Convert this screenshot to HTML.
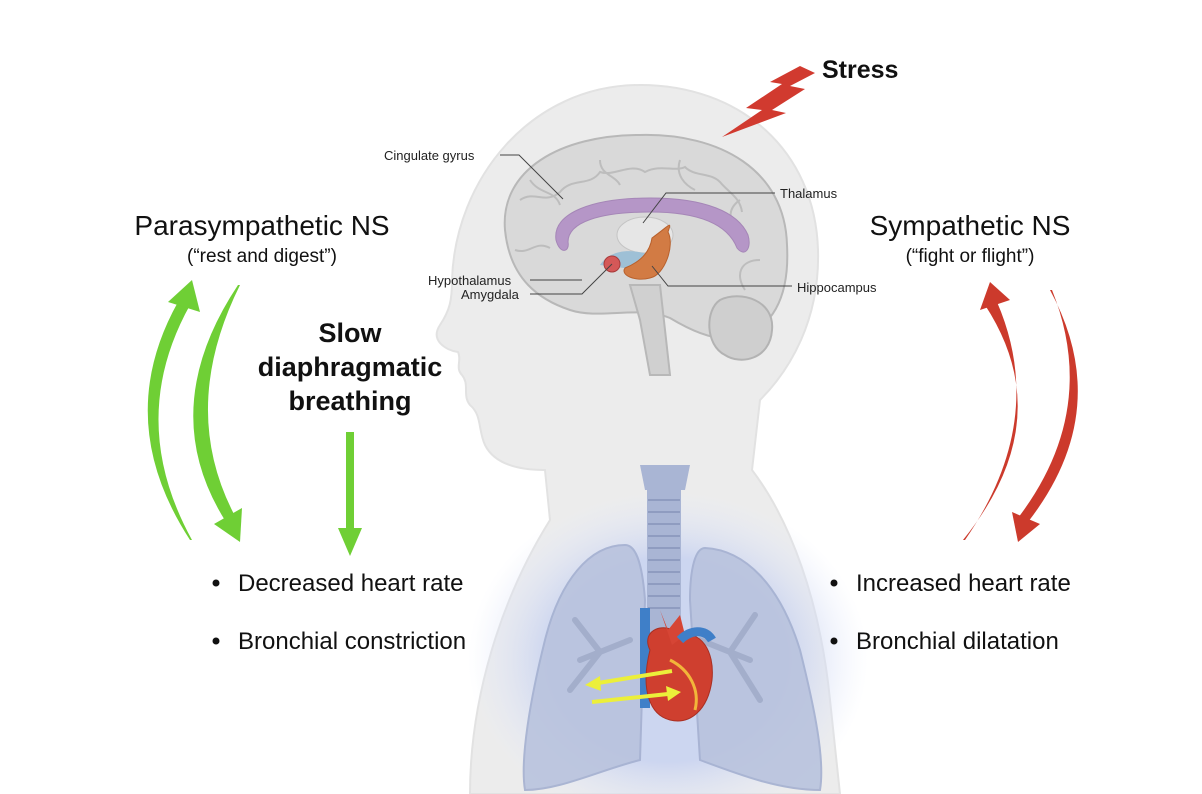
<!DOCTYPE html>
<html><head><meta charset="utf-8"><style>
html,body{margin:0;padding:0;background:#fff;}
svg{display:block;font-family:"Liberation Sans",sans-serif;}
</style></head><body>
<svg width="1202" height="794" viewBox="0 0 1202 794" xmlns="http://www.w3.org/2000/svg">
<defs>
<radialGradient id="glow" cx="0.5" cy="0.5" r="0.5">
<stop offset="0.6" stop-color="#c9d3f0" stop-opacity="0.9"/>
<stop offset="1" stop-color="#e6ebfb" stop-opacity="0"/>
</radialGradient>
</defs>
<rect width="1202" height="794" fill="#fff"/>
<path d="M640,85 C740,85 815,150 818,250 C820,320 790,370 760,400 L752,470 C790,520 820,600 830,700 L840,794 L470,794 C470,700 500,600 550,520 L545,470 C520,470 495,465 485,445 C478,430 482,415 470,405 C462,395 470,385 462,375 C455,368 462,360 458,352 C445,350 430,340 440,325 C450,310 452,300 452,280 C455,180 530,85 640,85 Z" fill="#ececec" stroke="#e2e2e2" stroke-width="2"/>
<ellipse cx="668" cy="660" rx="200" ry="170" fill="url(#glow)"/>
<path d="M505,230 C500,170 560,135 640,135 C720,133 785,170 787,245 C790,300 770,330 740,335 C720,345 690,330 670,318 C640,305 600,320 570,310 C540,300 510,280 505,230 Z" fill="#d9d9d9" stroke="#b8b8b8" stroke-width="2"/>
<g fill="none" stroke="#bdbdbd" stroke-width="2">
<path d="M520,200 c15,-10 25,5 40,-8 c12,-15 30,-5 40,-20 c15,5 30,-10 45,0 c15,-8 30,0 40,-5 c10,10 25,5 35,15 c8,10 20,15 22,30"/>
<path d="M515,250 c15,5 20,-10 35,-2 M530,180 c10,15 25,10 30,25 M600,160 c0,15 15,15 20,25 M680,160 c-5,15 5,25 15,30 M740,200 c-15,10 -10,25 0,35 M760,260 c-20,0 -25,15 -15,30"/>
</g>
<path d="M720,300 C740,290 775,300 772,330 C770,360 740,365 725,355 C705,345 705,310 720,300 Z" fill="#cfcfcf" stroke="#b3b3b3" stroke-width="2"/>
<path d="M630,285 L660,285 L665,330 L670,375 L650,375 L640,320 Z" fill="#d0d0d0" stroke="#b8b8b8" stroke-width="2"/>
<path d="M556,240 C552,212 595,198 650,198 C705,198 738,212 748,235 C752,248 745,258 737,248 C728,225 700,212 650,212 C600,212 568,222 568,242 C570,252 560,255 556,240 Z" fill="#b596c7" stroke="#a586b7" stroke-width="1"/>
<ellipse cx="645" cy="235" rx="28" ry="18" fill="#e6e6e6" stroke="#c4c4c4"/>
<path d="M600,265 C610,250 630,248 650,255 L640,270 Z" fill="#9ec0d6"/>
<path d="M652,238 C670,225 672,220 668,232 C675,245 665,275 650,278 C635,282 620,275 625,268 C640,262 650,252 652,238 Z" fill="#d27b44" stroke="#b8602c"/>
<circle cx="612" cy="264" r="8" fill="#d45858" stroke="#a83a3a"/>
<g font-size="13" fill="#222">
<text x="384" y="160">Cingulate gyrus</text>
<text x="780" y="198">Thalamus</text>
<text x="428" y="285">Hypothalamus</text>
<text x="461" y="299">Amygdala</text>
<text x="797" y="292">Hippocampus</text>
</g>
<g stroke="#444" stroke-width="1" fill="none">
<polyline points="500,155 519,155 563,199"/>
<polyline points="775,193 666,193 643,223"/>
<polyline points="530,280 582,280"/>
<polyline points="530,294 582,294 612,264"/>
<polyline points="792,286 668,286 652,266"/>
</g>
<path d="M722,137 L762,110 L746,108 L782,84 L770,82 L800,66 L815,73 L790,86 L805,89 L772,110 L786,113 Z" fill="#d13a2f"/>
<text x="822" y="78" font-size="25" font-weight="bold" fill="#111">Stress</text>
<path d="M625,545 C590,545 560,580 545,640 C530,700 520,760 525,790 C560,790 600,770 640,760 L645,600 C642,560 635,545 625,545 Z" fill="#b9c3de" stroke="#a4b0d0" stroke-width="2" opacity="0.9"/>
<path d="M705,548 C745,550 780,585 800,650 C815,710 825,760 820,790 C780,790 740,775 700,760 L690,600 C690,570 695,548 705,548 Z" fill="#b9c3de" stroke="#a4b0d0" stroke-width="2" opacity="0.9"/>
<g stroke="#a3aecb" stroke-width="6" fill="none" stroke-linecap="round">
<path d="M630,640 L580,660 M600,652 L575,620 M600,652 L570,690 M700,640 L750,660 M730,652 L755,615 M730,652 L760,700"/>
</g>
<rect x="647" y="470" width="34" height="170" rx="6" fill="#a9b5d4"/>
<g stroke="#8f9cc0" stroke-width="2">
<line x1="648" y1="500" x2="680" y2="500"/><line x1="648" y1="512" x2="680" y2="512"/><line x1="648" y1="524" x2="680" y2="524"/><line x1="648" y1="536" x2="680" y2="536"/><line x1="648" y1="548" x2="680" y2="548"/><line x1="648" y1="560" x2="680" y2="560"/><line x1="648" y1="572" x2="680" y2="572"/><line x1="648" y1="584" x2="680" y2="584"/><line x1="648" y1="596" x2="680" y2="596"/><line x1="648" y1="608" x2="680" y2="608"/>
</g>
<path d="M640,465 L690,465 L685,490 L645,490 Z" fill="#a9b5d4"/>
<rect x="640" y="608" width="10" height="100" fill="#3f7fc8"/>
<path d="M650,650 C640,630 665,620 680,635 C700,630 715,650 712,680 C708,710 690,725 670,720 C650,715 640,690 650,650 Z" fill="#cf3f2f" stroke="#a92f22"/>
<path d="M660,610 L668,630 L680,615 L685,635 L672,645 Z" fill="#d64535"/>
<path d="M680,640 C690,630 705,628 712,640" stroke="#3f7fc8" stroke-width="9" fill="none"/>
<path d="M670,660 C690,670 700,690 695,710" stroke="#f2b63a" stroke-width="3" fill="none"/>
<g stroke="#ecef3a" stroke-width="4" fill="#ecef3a">
<line x1="672" y1="671" x2="598" y2="683"/><polygon points="585,685 600,676 601,691" stroke="none"/>
<line x1="592" y1="702" x2="668" y2="694"/><polygon points="681,692 666,686 668,701" stroke="none"/>
</g>
<text x="262" y="235" font-size="28" text-anchor="middle" fill="#111">Parasympathetic NS</text>
<text x="262" y="262" font-size="19" text-anchor="middle" fill="#111">(“rest and digest”)</text>
<g font-size="27" font-weight="bold" text-anchor="middle" fill="#111">
<text x="350" y="342">Slow</text>
<text x="350" y="376">diaphragmatic</text>
<text x="350" y="410">breathing</text>
</g>
<text x="970" y="235" font-size="28" text-anchor="middle" fill="#111">Sympathetic NS</text>
<text x="970" y="262" font-size="19" text-anchor="middle" fill="#111">(“fight or flight”)</text>
<g font-size="24" fill="#111">
<circle cx="216" cy="583" r="3.5"/><text x="238" y="591">Decreased heart rate</text>
<circle cx="216" cy="641" r="3.5"/><text x="238" y="649">Bronchial constriction</text>
<circle cx="834" cy="583" r="3.5"/><text x="856" y="591">Increased heart rate</text>
<circle cx="834" cy="641" r="3.5"/><text x="856" y="649">Bronchial dilatation</text>
</g>
<g fill="#6fcf35">
<path d="M190,540 Q112,420 178,302 L190,305 Q126,420 192,540 Z"/>
<polygon points="192,280 168,302 200,312"/>
<path d="M238,285 Q155,410 226,522 L236,518 Q178,410 240,285 Z"/>
<polygon points="240,542 214,524 242,508"/>
<rect x="346" y="432" width="8" height="100"/>
<polygon points="338,528 362,528 350,556"/>
</g>
<g fill="#cc3a2c">
<path d="M963,540 Q1060,420 985,305 L997,302 Q1048,420 965,540 Z"/>
<polygon points="990,282 980,310 1010,300"/>
<path d="M1050,290 Q1115,410 1028,522 L1018,518 Q1100,410 1052,290 Z"/>
<polygon points="1018,542 1012,512 1040,524"/>
</g>
</svg>
</body></html>
